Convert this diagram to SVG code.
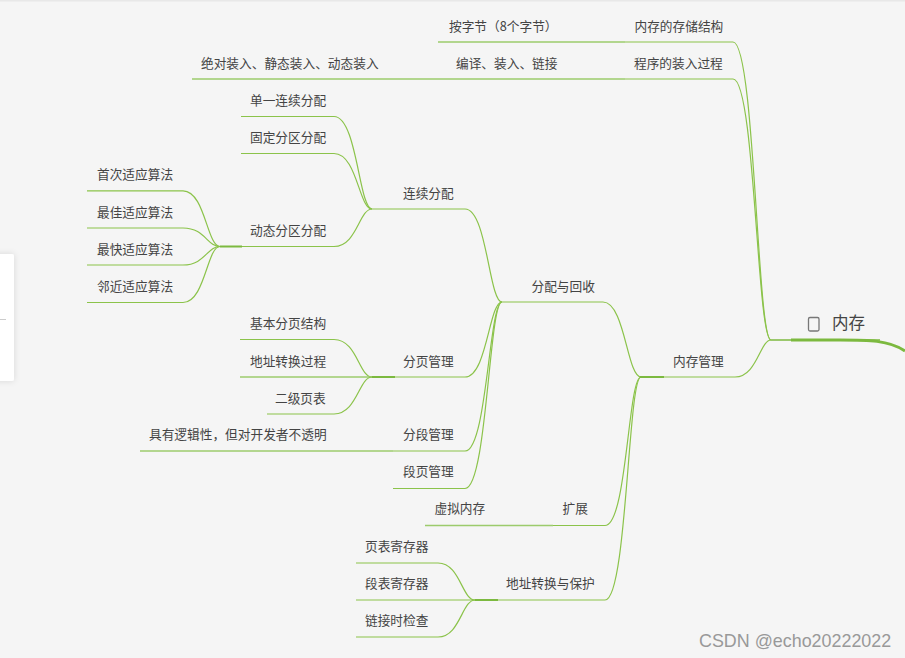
<svg xmlns="http://www.w3.org/2000/svg" width="905" height="658" viewBox="0 0 905 658">
<style>
text{font-family:"Noto Sans CJK SC","Noto Sans",sans-serif;font-size:12.7px;fill:#444}
.e{fill:none;stroke:#8bc34a;stroke-width:1.200}
.u{fill:none;stroke:#9ccb6c;stroke-width:1.300}
.t{fill:none;stroke:#7cb93f;stroke-width:2}
</style>
<defs><filter id="s" x="-50%" y="-20%" width="200%" height="140%"><feDropShadow dx="0" dy="0" stdDeviation="3" flood-color="#000" flood-opacity=".12"/></filter></defs>
<rect width="905" height="658" fill="#f5f5f5"/>
<rect width="905" height="1.500" fill="#e8e8e8"/>
<g id="panel"><rect x="-10" y="254" width="24" height="127" rx="2" fill="#fff" filter="url(#s)"/><path d="M0 319.500H6" stroke="#ccc" fill="none"/></g>
<g id="connectors">
<path class="e" d="M625 42H733C755 42 757 340 771 340"/>
<path class="e" d="M625 79H733C755 79 757 340 771 340"/>
<path class="e" d="M664 377H735C757 377 760 340 771 340"/>
<path class="e" d="M641 377C627 377 625 302 603 302H502"/>
<path class="e" d="M641 377C628 377 627 525.500 605 525.500H553"/>
<path class="e" d="M641 377C628 377 627 600 605 600H475"/>
<path class="u" d="M438 42H625M192 79H445M445 79H625M425 525.500H553"/>
<path class="e" d="M502 302C489 302 487 209 465 209H372"/>
<path class="e" d="M502 302C489 302 487 377 465 377H395"/>
<path class="e" d="M502 302C489 302 487 451 465 451H393"/>
<path class="e" d="M502 302C489 302 487 488.500 465 488.500H393"/>
<path class="u" d="M140 451H393"/>
<path class="e" d="M372 209C359 209 357 116.500 334 116.500H241"/>
<path class="e" d="M372 209C359 209 357 153.500 334 153.500H241"/>
<path class="e" d="M372 209C359 209 357 246.500 334 246.500H242"/>
<path class="e" d="M372 377C359 377 357 339.500 334 339.500H240"/>
<path class="u" d="M372 377H240"/>
<path class="e" d="M372 377C359 377 357 414 334 414H267"/>
<path class="e" d="M220 246.500C207 246.500 205 190.800 183 190.800H87"/>
<path class="e" d="M220 246.500C207 246.500 205 228 183 228H87"/>
<path class="e" d="M220 246.500C207 246.500 205 265 183 265H87"/>
<path class="e" d="M220 246.500C207 246.500 205 302.500 183 302.500H87"/>
<path class="e" d="M475 600C462 600 460 563 438 563H356"/>
<path class="e" d="M475 600H356"/>
<path class="e" d="M475 600C462 600 460 637 438 637H356"/>
<path class="t" d="M640 377H664M372 377H395M220 246.500H242M475 600H498" style="stroke-width:1.800"/>
<path class="t" d="M771 340H880" style="stroke-width:1.500"/>
<path d="M791 340H840C868 340 889 340 905 351" fill="none" stroke="#7cb93f" stroke-width="3"/>
</g>
<g id="root"><rect x="808.500" y="317.500" width="10.500" height="13.500" rx="1.500" fill="none" stroke="#777" stroke-width="1.300"/><text x="832" y="329" style="font-size:16.500px">内存</text></g>
<g id="n1"><text x="634.500" y="31">内存的存储结构</text></g>
<g id="n2"><text x="634" y="68">程序的装入过程</text></g>
<g id="n3"><text x="449" y="31">按字节（8个字节）</text></g>
<g id="n4"><text x="456" y="68">编译、装入、链接</text></g>
<g id="n5"><text x="201" y="68">绝对装入、静态装入、动态装入</text></g>
<g id="n6"><text x="673" y="366">内存管理</text></g>
<g id="n7"><text x="531.500" y="291">分配与回收</text></g>
<g id="n8"><text x="562.500" y="513">扩展</text></g>
<g id="n9"><text x="434.500" y="513">虚拟内存</text></g>
<g id="n10"><text x="506" y="588">地址转换与保护</text></g>
<g id="n11"><text x="365" y="551">页表寄存器</text></g>
<g id="n12"><text x="365" y="588">段表寄存器</text></g>
<g id="n13"><text x="365" y="625">链接时检查</text></g>
<g id="n14"><text x="403" y="198">连续分配</text></g>
<g id="n15"><text x="403" y="366">分页管理</text></g>
<g id="n16"><text x="403" y="439">分段管理</text></g>
<g id="n17"><text x="403" y="476">段页管理</text></g>
<g id="n18"><text x="250" y="105">单一连续分配</text></g>
<g id="n19"><text x="250" y="142">固定分区分配</text></g>
<g id="n20"><text x="250" y="235">动态分区分配</text></g>
<g id="n21"><text x="250" y="328">基本分页结构</text></g>
<g id="n22"><text x="250" y="366">地址转换过程</text></g>
<g id="n23"><text x="275" y="403">二级页表</text></g>
<g id="n24"><text x="149" y="439">具有逻辑性，但对开发者不透明</text></g>
<g id="n25"><text x="97" y="179">首次适应算法</text></g>
<g id="n26"><text x="97" y="217">最佳适应算法</text></g>
<g id="n27"><text x="97" y="254">最快适应算法</text></g>
<g id="n28"><text x="97" y="291">邻近适应算法</text></g>
<text x="699" y="647" style="font-family:'Liberation Sans',sans-serif;font-size:17.900px;fill:#999">CSDN @echo20222022</text>
</svg>
